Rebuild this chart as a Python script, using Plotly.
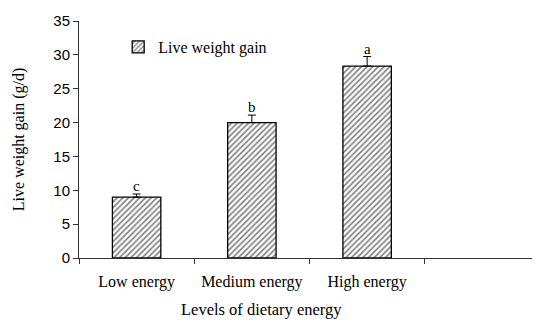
import plotly.graph_objects as go

categories = ["Low energy", "Medium energy", "High energy"]
gain = [9.0, 20.0, 28.35]
gain_se = [0.45, 1.1, 1.4]
letters = ["c", "b", "a"]
y_ticks = [0, 5, 10, 15, 20, 25, 30, 35]

serif = "Liberation Serif, Times New Roman, serif"
sans = "Liberation Sans, Arial, sans-serif"

fig = go.Figure()
fig.add_trace(go.Bar(
    x=categories, y=gain, name="Live weight gain",
    width=0.42,
    marker=dict(color="white", line=dict(color="black", width=1.3),
                pattern=dict(shape="/", fgcolor="black", bgcolor="white",
                             size=4, solidity=0.4)),
    error_y=dict(type="data", array=gain_se, arrayminus=[0]*3, symmetric=False,
                 color="black", thickness=1, width=4),
))

for c, v, e, t in zip(categories, gain, gain_se, letters):
    fig.add_annotation(x=c, y=v + e, text=t, showarrow=False, yanchor="bottom",
                       font=dict(family=serif, size=15, color="black"), yshift=-2)

fig.add_annotation(x=0.395, y=-0.218, xref="paper", yref="paper",
                   text="Levels of dietary energy", showarrow=False,
                   yanchor="middle", font=dict(family=serif, size=16.5, color="black"))

fig.update_layout(
    width=532, height=313,
    margin=dict(l=71, r=0, t=13, b=63),
    paper_bgcolor="white", plot_bgcolor="white",
    showlegend=True,
    legend=dict(x=0.085, y=0.89, xanchor="left", yanchor="middle",
                font=dict(family=serif, size=16, color="black"),
                bgcolor="rgba(0,0,0,0)"),
    xaxis=dict(type="category", range=[-0.5, 3.5], tickson="boundaries",
               ticks="outside", ticklen=5, tickcolor="#333",
               showline=True, linecolor="#333", linewidth=1,
               showgrid=False, automargin=False,
               tickfont=dict(family=serif, size=16, color="black"),
               ticklabelstandoff=9),
    yaxis=dict(range=[0, 35], tickvals=y_ticks, ticks="outside", ticklen=5,
               tickcolor="#333", showline=True, linecolor="#333", linewidth=1,
               showgrid=False, zeroline=False, automargin=False,
               tickfont=dict(family=sans, size=15, color="black"),
               title=dict(text="Live weight gain (g/d)", standoff=24,
                          font=dict(family=serif, size=16, color="black"))),
)

fig.write_html("out.html")
